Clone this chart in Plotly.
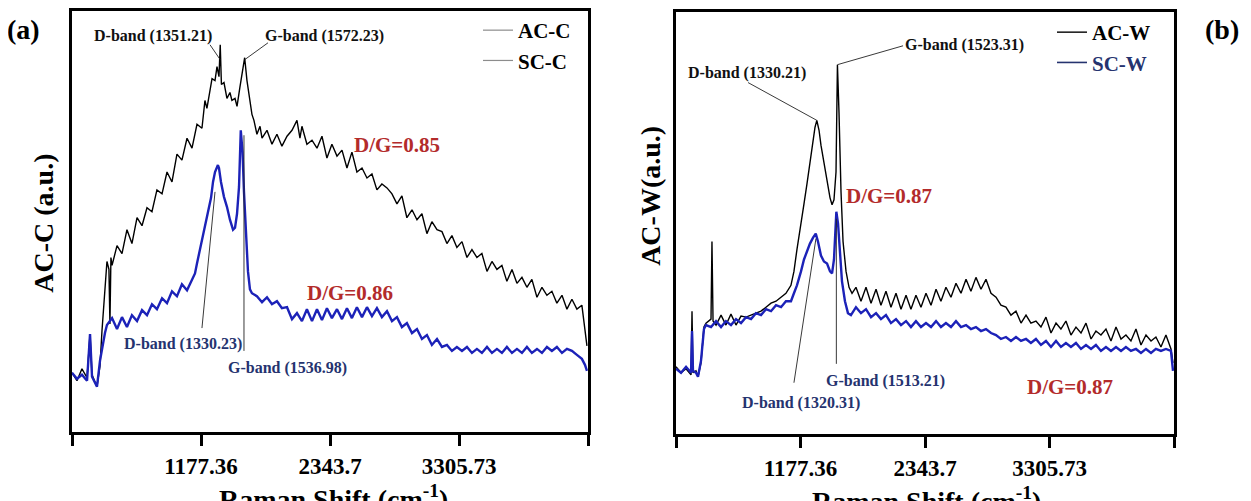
import plotly.graph_objects as go

# ---------------- data (Raman shift in cm^-1, intensity in a.u.) ----------------
TICK_LABELS = ["1177.36", "2343.7", "3305.73"]

AC_C_X = [11, 56, 101, 147, 174, 192, 237, 264, 282, 300, 318, 327, 345, 354, 363, 373, 418, 463, 508, 553,
          599, 644, 689, 734, 779, 825, 870, 915, 960, 1005, 1051, 1096, 1141, 1186, 1213, 1231, 1277, 1304, 1322, 1340,
          1351.21, 1362, 1385, 1412, 1439, 1457, 1485, 1503, 1530, 1548, 1572.23, 1593, 1620, 1638, 1656, 1683, 1711, 1729, 1774, 1819,
          1864, 1909, 1955, 2000, 2045, 2072, 2090, 2135, 2181, 2226, 2271, 2316, 2361, 2407, 2452, 2497, 2542, 2587, 2633, 2678,
          2723, 2768, 2813, 2859, 2904, 2949, 2994, 3039, 3085, 3130, 3175, 3220, 3265, 3311, 3356, 3401, 3446, 3491, 3537, 3582,
          3627, 3672, 3717, 3763, 3808, 3853, 3898, 3943, 3989, 4034, 4079, 4124, 4169, 4215, 4260, 4305, 4350, 4395, 4441, 4486,
          4531, 4576, 4621, 4649, 4667]
AC_C_Y = [60, 52, 64, 55, 99, 58, 46, 67, 102, 132, 160, 172, 164, 109, 176, 168, 188, 180, 204, 190,
          216, 208, 226, 222, 244, 240, 262, 252, 280, 274, 296, 286, 310, 306, 334, 326, 356, 354, 368, 358,
          390, 350, 352, 336, 342, 334, 336, 328, 348, 362, 377, 354, 336, 320, 314, 300, 308, 296, 304, 290,
          300, 288, 298, 304, 314, 296, 308, 290, 294, 286, 298, 276, 290, 278, 284, 266, 282, 262, 266, 256,
          260, 244, 250, 246, 240, 230, 238, 216, 224, 214, 220, 200, 212, 204, 202, 190, 198, 186, 192, 176,
          184, 176, 180, 162, 172, 164, 168, 152, 164, 150, 156, 146, 154, 136, 146, 138, 142, 130, 138, 124,
          134, 124, 128, 102, 87]

SC_C_X = [11, 56, 101, 147, 174, 192, 219, 237, 264, 282, 309, 327, 373, 418, 463, 508, 553, 599, 644, 689,
          734, 779, 825, 870, 915, 960, 1005, 1051, 1096, 1123, 1141, 1168, 1186, 1213, 1240, 1268, 1286, 1304, 1330.23, 1340,
          1358, 1385, 1412, 1439, 1467, 1485, 1503, 1521, 1536.98, 1553, 1566, 1584, 1602, 1620, 1638, 1683, 1729, 1774, 1819, 1864,
          1909, 1955, 2000, 2045, 2090, 2135, 2181, 2226, 2271, 2316, 2361, 2407, 2452, 2497, 2542, 2587, 2633, 2678, 2723, 2768,
          2813, 2859, 2904, 2949, 2994, 3039, 3085, 3130, 3175, 3220, 3265, 3311, 3356, 3401, 3446, 3491, 3537, 3582, 3627, 3672,
          3717, 3763, 3808, 3853, 3898, 3943, 3989, 4034, 4079, 4124, 4169, 4215, 4260, 4305, 4350, 4395, 4441, 4486, 4531, 4576,
          4621, 4649, 4667]
SC_C_Y = [60, 54, 58, 52, 99, 56, 50, 46, 72, 85, 100, 108, 115, 104, 116, 106, 118, 112, 123, 118,
          129, 124, 135, 130, 142, 137, 149, 143, 154, 160, 170, 184, 194, 207, 222, 236, 252, 262, 269, 266,
          252, 237, 227, 214, 204, 206, 220, 247, 304, 282, 242, 197, 162, 144, 140, 137, 131, 136, 129, 132,
          125, 126, 114, 120, 112, 124, 112, 124, 113, 125, 115, 124, 114, 125, 115, 126, 116, 126, 117, 125,
          116, 122, 112, 116, 106, 110, 100, 104, 94, 98, 88, 94, 86, 88, 82, 86, 82, 86, 80, 84,
          80, 86, 80, 84, 80, 86, 80, 84, 80, 86, 80, 84, 80, 86, 82, 86, 80, 84, 82, 78,
          74, 68, 62]

AC_W_X = [11, 58, 105, 152, 161, 170, 198, 217, 245, 273, 292, 339, 348, 358, 386, 433, 479, 526, 573, 620,
          667, 714, 760, 807, 854, 901, 948, 995, 1041, 1088, 1116, 1144, 1182, 1210, 1238, 1266, 1295, 1313, 1330.21, 1351,
          1369, 1397, 1426, 1454, 1473, 1491, 1510, 1523.31, 1538, 1557, 1576, 1604, 1632, 1660, 1697, 1744, 1791, 1838, 1885, 1931,
          1978, 2025, 2072, 2119, 2166, 2212, 2259, 2306, 2353, 2400, 2447, 2493, 2540, 2587, 2634, 2681, 2728, 2774, 2821, 2868,
          2915, 2962, 3009, 3055, 3102, 3149, 3196, 3243, 3290, 3336, 3383, 3430, 3477, 3524, 3571, 3617, 3664, 3711, 3758, 3805,
          3852, 3899, 3945, 3992, 4039, 4086, 4133, 4180, 4226, 4273, 4320, 4367, 4414, 4461, 4507, 4554, 4601, 4648, 4667]
AC_W_Y = [68, 62, 66, 60, 124, 62, 64, 58, 72, 108, 112, 116, 194, 114, 110, 120, 110, 121, 110, 119,
          118, 120, 122, 124, 128, 132, 134, 138, 142, 150, 164, 186, 210, 232, 252, 272, 294, 309, 316, 306,
          291, 274, 258, 238, 231, 236, 264, 372, 324, 244, 194, 164, 148, 142, 148, 134, 148, 132, 146, 130,
          144, 128, 142, 126, 140, 126, 140, 128, 142, 130, 146, 134, 148, 138, 152, 142, 156, 144, 158, 146,
          156, 142, 138, 130, 128, 120, 124, 112, 120, 112, 114, 108, 118, 102, 112, 106, 114, 100, 108, 102,
          112, 96, 104, 100, 106, 94, 108, 96, 100, 94, 106, 90, 100, 94, 98, 88, 100, 86, 72]

SC_W_X = [11, 58, 105, 152, 161, 170, 198, 217, 245, 273, 292, 339, 386, 433, 479, 526, 573, 620, 667, 714,
          760, 807, 854, 901, 948, 995, 1041, 1088, 1116, 1144, 1182, 1210, 1238, 1266, 1295, 1320.31, 1341, 1369, 1397, 1426,
          1454, 1473, 1491, 1513.21, 1529, 1548, 1566, 1594, 1622, 1650, 1697, 1744, 1791, 1838, 1885, 1931, 1978, 2025, 2072, 2119,
          2166, 2212, 2259, 2306, 2353, 2400, 2447, 2493, 2540, 2587, 2634, 2681, 2728, 2774, 2821, 2868, 2915, 2962, 3009, 3055,
          3102, 3149, 3196, 3243, 3290, 3336, 3383, 3430, 3477, 3524, 3571, 3617, 3664, 3711, 3758, 3805, 3852, 3899, 3945, 3992,
          4039, 4086, 4133, 4180, 4226, 4273, 4320, 4367, 4414, 4461, 4507, 4554, 4601, 4648, 4667]
SC_W_Y = [66, 62, 68, 62, 104, 64, 62, 58, 74, 106, 110, 108, 114, 108, 114, 110, 116, 112, 118, 116,
          122, 120, 126, 124, 130, 128, 134, 134, 142, 150, 164, 176, 184, 192, 198, 202, 194, 180, 174, 172,
          164, 162, 176, 224, 212, 182, 154, 134, 122, 120, 128, 122, 126, 118, 122, 116, 120, 112, 116, 110,
          114, 108, 114, 108, 112, 108, 114, 108, 112, 108, 114, 108, 110, 106, 108, 104, 106, 102, 100, 96,
          98, 94, 98, 94, 96, 92, 96, 90, 94, 88, 94, 88, 92, 88, 92, 86, 90, 86, 90, 84,
          88, 84, 88, 84, 88, 84, 86, 82, 86, 82, 86, 84, 86, 84, 64]

# band labels: (text, leader end x, leader end y, leader start x, leader start y, label x, label y, group)
BANDS_A = [("D-band (1351.21)", 1351.21, 375, 1259, 390, 743, 399, "top"),
           ("G-band (1572.23)", 1572.23, 375, 1783, 392, 2298, 399, "top"),
           ("D-band (1330.23)", 1304, 242, 1186, 105, 1015, 89, "bottom"),
           ("G-band (1536.98)", 1566, 299, 1566, 82, 1955, 65, "bottom")]
BANDS_B = [("D-band (1330.21)", 1330.21, 316, 686, 354, 676, 364, "top"),
           ("G-band (1523.31)", 1523.31, 372, 2138, 391, 2718, 392, "top"),
           ("G-band (1513.21)", 1513.21, 217, 1513.21, 71, 1978, 54, "bottom"),
           ("D-band (1320.31)", 1322, 197, 1116, 52, 1182, 32, "bottom")]
RATIOS_A = [("D/G=0.85", 2949, 289), ("D/G=0.86", 2524, 140)]
RATIOS_B = [("D/G=0.87", 2006, 240), ("D/G=0.87", 3702, 48)]

# ---------------- style ----------------
FONT = "Liberation Serif, Times New Roman, serif"
BLACK = "#000000"
BLUE = "#1c22b8"
RED = "#b32b2b"
NAVY = "#25336f"
OFF = 8                      # page body margin
W, H = 1251 - OFF, 501 - OFF
XR = [11.02, 4676.38]
step = (XR[1] - XR[0]) / 4
TICKVALS = [XR[0] + i * step for i in range(5)]
TICKTEXT = [""] + TICK_LABELS + [""]


def px(x):
    return (x - OFF) / W


def py(y):
    return 1 - (y - OFF) / H


fig = go.Figure()

fig.add_trace(go.Scatter(x=AC_C_X, y=AC_C_Y, mode="lines", line=dict(color=BLACK, width=1.4),
                         xaxis="x", yaxis="y", showlegend=False))
fig.add_trace(go.Scatter(x=SC_C_X, y=SC_C_Y, mode="lines", line=dict(color=BLUE, width=2.4),
                         xaxis="x", yaxis="y", showlegend=False))
fig.add_trace(go.Scatter(x=AC_W_X, y=AC_W_Y, mode="lines", line=dict(color=BLACK, width=1.4),
                         xaxis="x2", yaxis="y2", showlegend=False))
fig.add_trace(go.Scatter(x=SC_W_X, y=SC_W_Y, mode="lines", line=dict(color=BLUE, width=2.4),
                         xaxis="x2", yaxis="y2", showlegend=False))

# legend entries
fig.add_trace(go.Scatter(x=[None], y=[None], mode="lines", name="AC-C", line=dict(color="#8c8c8c", width=1.2),
                         xaxis="x", yaxis="y", legend="legend"))
fig.add_trace(go.Scatter(x=[None], y=[None], mode="lines", name="SC-C", line=dict(color="#8c8c8c", width=1.2),
                         xaxis="x", yaxis="y", legend="legend"))
fig.add_trace(go.Scatter(x=[None], y=[None], mode="lines", name="AC-W", line=dict(color=BLACK, width=1.4),
                         xaxis="x2", yaxis="y2", legend="legend2"))
fig.add_trace(go.Scatter(x=[None], y=[None], mode="lines", name="<span style='color:%s'>SC-W</span>" % NAVY,
                         line=dict(color=NAVY, width=1.6), xaxis="x2", yaxis="y2", legend="legend2"))

shapes = []
annotations = []


def add_bands(bands, xref, yref):
    for text, ex, ey, sx, sy, lx, ly, where in bands:
        shapes.append(dict(type="line", xref=xref, yref=yref, x0=sx, y0=sy, x1=ex, y1=ey,
                           line=dict(color="#222222", width=0.9)))
        annotations.append(dict(text=text, x=lx, y=ly, xref=xref, yref=yref, showarrow=False,
                                font=dict(family=FONT, size=16, color="#111111" if where == "top" else NAVY,
                                          weight="bold")))


def add_ratios(ratios, xref, yref):
    for text, lx, ly in ratios:
        annotations.append(dict(text=text, x=lx, y=ly, xref=xref, yref=yref, showarrow=False,
                                font=dict(family=FONT, size=21, color=RED, weight="bold")))


add_bands(BANDS_A, "x", "y")
add_bands(BANDS_B, "x2", "y2")
add_ratios(RATIOS_A, "x", "y")
add_ratios(RATIOS_B, "x2", "y2")

# titles and panel labels (positions in reference pixels)
for txt, x, y, ang, size in [("AC-C (a.u.)", 44, 222, -90, 28), ("AC-W(a.u.)", 651, 194, -90, 28),
                             ("Raman Shift (cm<sup>-1</sup>)", 333, 497, 0, 28),
                             ("Raman Shift (cm<sup>-1</sup>)", 926, 499, 0, 28),
                             ("(a)", 24, 27, 0, 28), ("(b)", 1222, 27, 0, 28)]:
    annotations.append(dict(text=txt, x=px(x), y=py(y), xref="paper", yref="paper", showarrow=False,
                            textangle=ang, xanchor="center", yanchor="middle",
                            font=dict(family=FONT, size=size, color="black", weight="bold")))

xcommon = dict(range=XR, tickvals=TICKVALS, ticktext=TICKTEXT, showline=True, linewidth=3, linecolor="black",
               mirror=True, ticks="outside", ticklen=11, tickwidth=3, tickcolor="black", showgrid=False,
               zeroline=False, ticklabelstandoff=0,
               tickfont=dict(family=FONT, size=23, color="black", weight="bold"))
ycommon = dict(showline=True, linewidth=3, linecolor="black", mirror=True, ticks="", showticklabels=False,
               showgrid=False, zeroline=False)

fig.update_layout(
    width=W, height=H, margin=dict(l=0, r=0, t=0, b=0),
    paper_bgcolor="white", plot_bgcolor="white",
    xaxis=dict(domain=[px(72), px(588)], anchor="y", **xcommon),
    yaxis=dict(domain=[py(432), py(8)], anchor="x", range=[0, 424], **ycommon),
    xaxis2=dict(domain=[px(676), px(1174)], anchor="y2", **xcommon),
    yaxis2=dict(domain=[py(434), py(9)], anchor="x2", range=[0, 425], **ycommon),
    legend=dict(x=px(478), y=py(7), xanchor="left", yanchor="top", bgcolor="rgba(0,0,0,0)",
                font=dict(family=FONT, size=21, color="black", weight="bold"), tracegroupgap=0),
    legend2=dict(x=px(1052), y=py(9), xanchor="left", yanchor="top", bgcolor="rgba(0,0,0,0)",
                 font=dict(family=FONT, size=21, color="black", weight="bold"), tracegroupgap=0),
    shapes=shapes, annotations=annotations,
)

fig.write_html("out.html")
